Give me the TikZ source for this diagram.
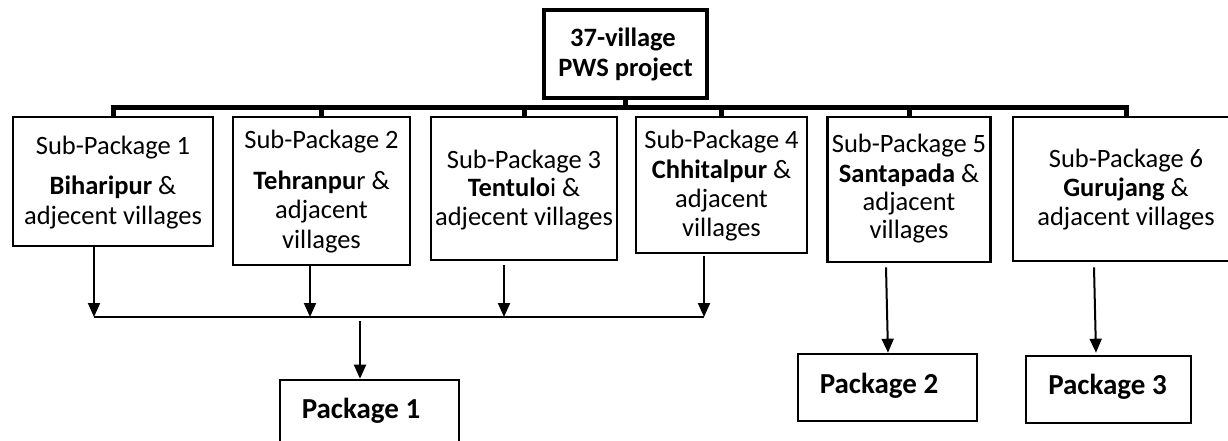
\documentclass[tikz,border=0pt]{standalone}
\usepackage{fontspec}
\setmainfont{Carlito}
\usetikzlibrary{arrows.meta,calc}
\begin{document}
\begin{tikzpicture}[x=1pt,y=-1pt,
  box/.style={draw, line width=2.6pt, inner sep=0pt, rectangle},
  topbox/.style={draw, line width=4.5pt, inner sep=0pt, rectangle},
  txt/.style={anchor=base, inner sep=0pt, font=\fontsize{26.5}{29}\selectfont},
  pktxt/.style={anchor=base, inner sep=0pt, font=\fontsize{29}{32}\selectfont\bfseries},
  bus/.style={line width=5pt},
  thinbus/.style={line width=2pt},
  arr/.style={line width=2pt, -{Triangle[width=12pt,length=14pt]}}]
\clip (0,0) rectangle (1228,441);

% top box
\node[topbox, minimum width=163pt, minimum height=88pt] (top) at (625.5,54) {};
\node[txt] (topa) at (623,47) {\bfseries 37-village};
\node[txt] (topb) at (625.5,77) {\bfseries PWS project};

% sub-package boxes
\node[box, minimum width=200pt, minimum height=129pt] (s1) at (113,181.5) {};
\node[box, minimum width=177pt, minimum height=148pt] (s2) at (321.5,191) {};
\node[box, minimum width=186pt, minimum height=143pt] (s3) at (524,188.5) {};
\node[box, minimum width=171pt, minimum height=136pt] (s4) at (721.5,185) {};
\node[box, minimum width=163pt, minimum height=145pt] (s5) at (909,189.5) {};
\node[box, minimum width=226pt, minimum height=144pt] (s6) at (1126,189) {};

\node[txt] (s1a) at (113,154) {Sub-Package 1};
\node[txt] (s1b) at (113,194) {\textbf{Biharipur} \&};
\node[txt] (s1c) at (113,224) {adjecent villages};

\node[txt] (s2a) at (321.5,149) {Sub-Package 2};
\node[txt] (s2b) at (321.5,189) {\textbf{Tehranpu}r \&};
\node[txt] (s2c) at (321.5,218) {adjacent};
\node[txt] (s2d) at (321.5,248) {villages};

\node[txt] (s3a) at (524,168) {Sub-Package 3};
\node[txt] (s3b) at (524,196) {\textbf{Tentulo}i \&};
\node[txt] (s3c) at (524,225) {adjecent villages};

\node[txt] (s4a) at (721.5,148) {Sub-Package 4};
\node[txt] (s4b) at (721.5,178) {\textbf{Chhitalpur} \&};
\node[txt] (s4c) at (721.5,207) {adjacent};
\node[txt] (s4d) at (721.5,236) {villages};

\node[txt] (s5a) at (909,153) {Sub-Package 5};
\node[txt] (s5b) at (909,182) {\textbf{Santapada} \&};
\node[txt] (s5c) at (909,210) {adjacent};
\node[txt] (s5d) at (909,238) {villages};

\node[txt] (s6a) at (1126,167) {Sub-Package 6};
\node[txt] (s6b) at (1126,196) {\textbf{Gurujang} \&};
\node[txt] (s6c) at (1126,225) {adjacent villages};

% package boxes
\node[box, minimum width=179pt, minimum height=90pt] (pk1) at (369.5,425) {};
\node[box, minimum width=179pt, minimum height=67pt] (pk2) at (887.5,387.5) {};
\node[box, minimum width=165pt, minimum height=67pt] (pk3) at (1108.5,389.5) {};
\node[pktxt] (pk1t) at (361,418) {Package 1};
\node[pktxt] (pk2t) at (879,393) {Package 2};
\node[pktxt] (pk3t) at (1107.5,394) {Package 3};

% thick distribution bus
\coordinate (busy) at (0,108);
\draw[bus] (top.south) -- (top.south |- busy);
\draw[bus] (s1.north) -- (s1.north |- busy) -- (s6.north |- busy) -- (s6.north);
\foreach \s in {s2,s3,s4,s5} \draw[bus] (\s.north) -- (\s.north |- busy);

% collecting bus for package 1
\coordinate (m1) at (94,317);
\coordinate (m2) at (310,317);
\coordinate (m3) at (504,317);
\coordinate (m4) at (704,317);
\coordinate (m5) at (360,317);
\draw[thinbus] (m1) -- (m4);
\draw[arr] (m1 |- s1.south) -- (m1);
\draw[arr] (m2 |- s2.south) -- (m2);
\draw[arr] ($(m3 |- s3.south)+(0,4)$) -- (m3);
\draw[arr] ($(m4 |- s4.south)+(0,2)$) -- (m4);
\draw[arr] ($(m5)+(0,4)$) -- (m5 |- pk1.north);

% packages 2 and 3
\draw[arr] ($(s5.south)+(-23,4)$) -- ($(pk2.north)+(0.5,0)$);
\draw[arr] ($(s6.south)+(-32,5)$) -- ($(pk3.north)+(-12.5,-2)$);
\end{tikzpicture}
\end{document}
